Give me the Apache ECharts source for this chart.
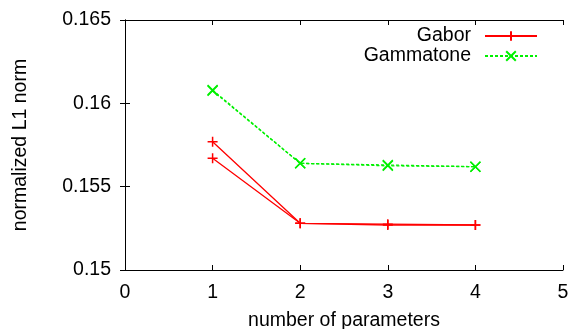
<!DOCTYPE html>
<html><head><meta charset="utf-8">
<script src="https://cdn.jsdelivr.net/npm/echarts@6/dist/echarts.min.js"></script>
<style>html,body{margin:0;padding:0;background:#fff}#c{width:570px;height:329px}</style>
</head><body><div id="c"></div>
<script>
const paramsX = [1, 2, 3, 4];
const gaborRunA = [0.1577, 0.1528, 0.15275, 0.1527];
const gaborRunB = [0.1567, 0.1528, 0.1527, 0.1527];
const gammaRunA = [0.1608, 0.1564, 0.1563, 0.1562];
const gammaRunB = [0.16075, 0.1564, 0.15625, 0.1562];
const xTicks = [0, 1, 2, 3, 4, 5];
const yTicks = [0.15, 0.155, 0.16, 0.165];

const F = 'Liberation Sans, Arial, sans-serif';
const FS = 19.5;
const plus = 'path://M0,5 L10,5 M5,0 L5,10';
const cross = 'path://M0,0 L10,10 M10,0 L0,10';
const RED = '#ff0000', GREEN = '#00f000';
const chart = echarts.init(document.getElementById('c'), null, {renderer: 'canvas'});
const tickStyle = {show: true, inside: true, length: 5, lineStyle: {color: '#000', width: 1}};
function mk(name, ys, color, symbol, dashed) {
  return {
    name: name, type: 'line',
    data: paramsX.map((x, i) => [x, ys[i]]),
    symbol: symbol, symbolSize: 10,
    lineStyle: {color: color, width: 1.3, type: dashed ? [3, 2] : 'solid'},
    itemStyle: {color: color, borderColor: color, borderWidth: 1.5},
    emphasis: {disabled: true}
  };
}
chart.setOption({
  animation: false,
  grid: {left: 125, right: 7, top: 20, bottom: 59, containLabel: false, outerBoundsMode: 'none'},
  legend: {
    orient: 'vertical', right: 32, top: 26, align: 'right', padding: 0,
    itemWidth: 52, itemHeight: 12, itemGap: 0,
    textStyle: {fontFamily: F, fontSize: FS, color: '#000', padding: [0, 9, 0, 0]},
    data: ['Gabor', 'Gammatone']
  },
  xAxis: [{
    type: 'value', min: xTicks[0], max: xTicks[xTicks.length - 1], interval: 1,
    name: 'number of parameters', nameLocation: 'middle', nameGap: 41,
    nameTextStyle: {fontFamily: F, fontSize: FS, color: '#000'},
    axisLine: {lineStyle: {color: '#000', width: 1}}, axisTick: tickStyle,
    axisLabel: {fontFamily: F, fontSize: FS, color: '#000', margin: 13},
    splitLine: {show: false}
  }, {
    type: 'value', position: 'top', min: xTicks[0], max: xTicks[xTicks.length - 1], interval: 1,
    axisLine: {show: true, lineStyle: {color: '#000', width: 1}}, axisTick: tickStyle,
    axisLabel: {show: false}, splitLine: {show: false}
  }],
  yAxis: [{
    type: 'value', min: yTicks[0], max: yTicks[yTicks.length - 1], interval: 0.005,
    name: 'normalized L1 norm', nameLocation: 'middle', nameGap: 94,
    nameTextStyle: {fontFamily: F, fontSize: FS, color: '#000'},
    axisLine: {show: true, lineStyle: {color: '#000', width: 1}}, axisTick: tickStyle,
    axisLabel: {fontFamily: F, fontSize: FS, color: '#000', margin: 14,
      formatter: v => String(parseFloat(v.toFixed(4)))},
    splitLine: {show: false}
  }, {
    type: 'value', position: 'right', min: yTicks[0], max: yTicks[yTicks.length - 1], interval: 0.005,
    axisLine: {show: true, lineStyle: {color: '#000', width: 1}}, axisTick: tickStyle,
    axisLabel: {show: false}, splitLine: {show: false}
  }],
  series: [
    mk('Gabor', gaborRunA, RED, plus, false),
    mk('Gabor', gaborRunB, RED, plus, false),
    mk('Gammatone', gammaRunA, GREEN, cross, true),
    mk('Gammatone', gammaRunB, GREEN, cross, true)
  ]
});
</script></body></html>
